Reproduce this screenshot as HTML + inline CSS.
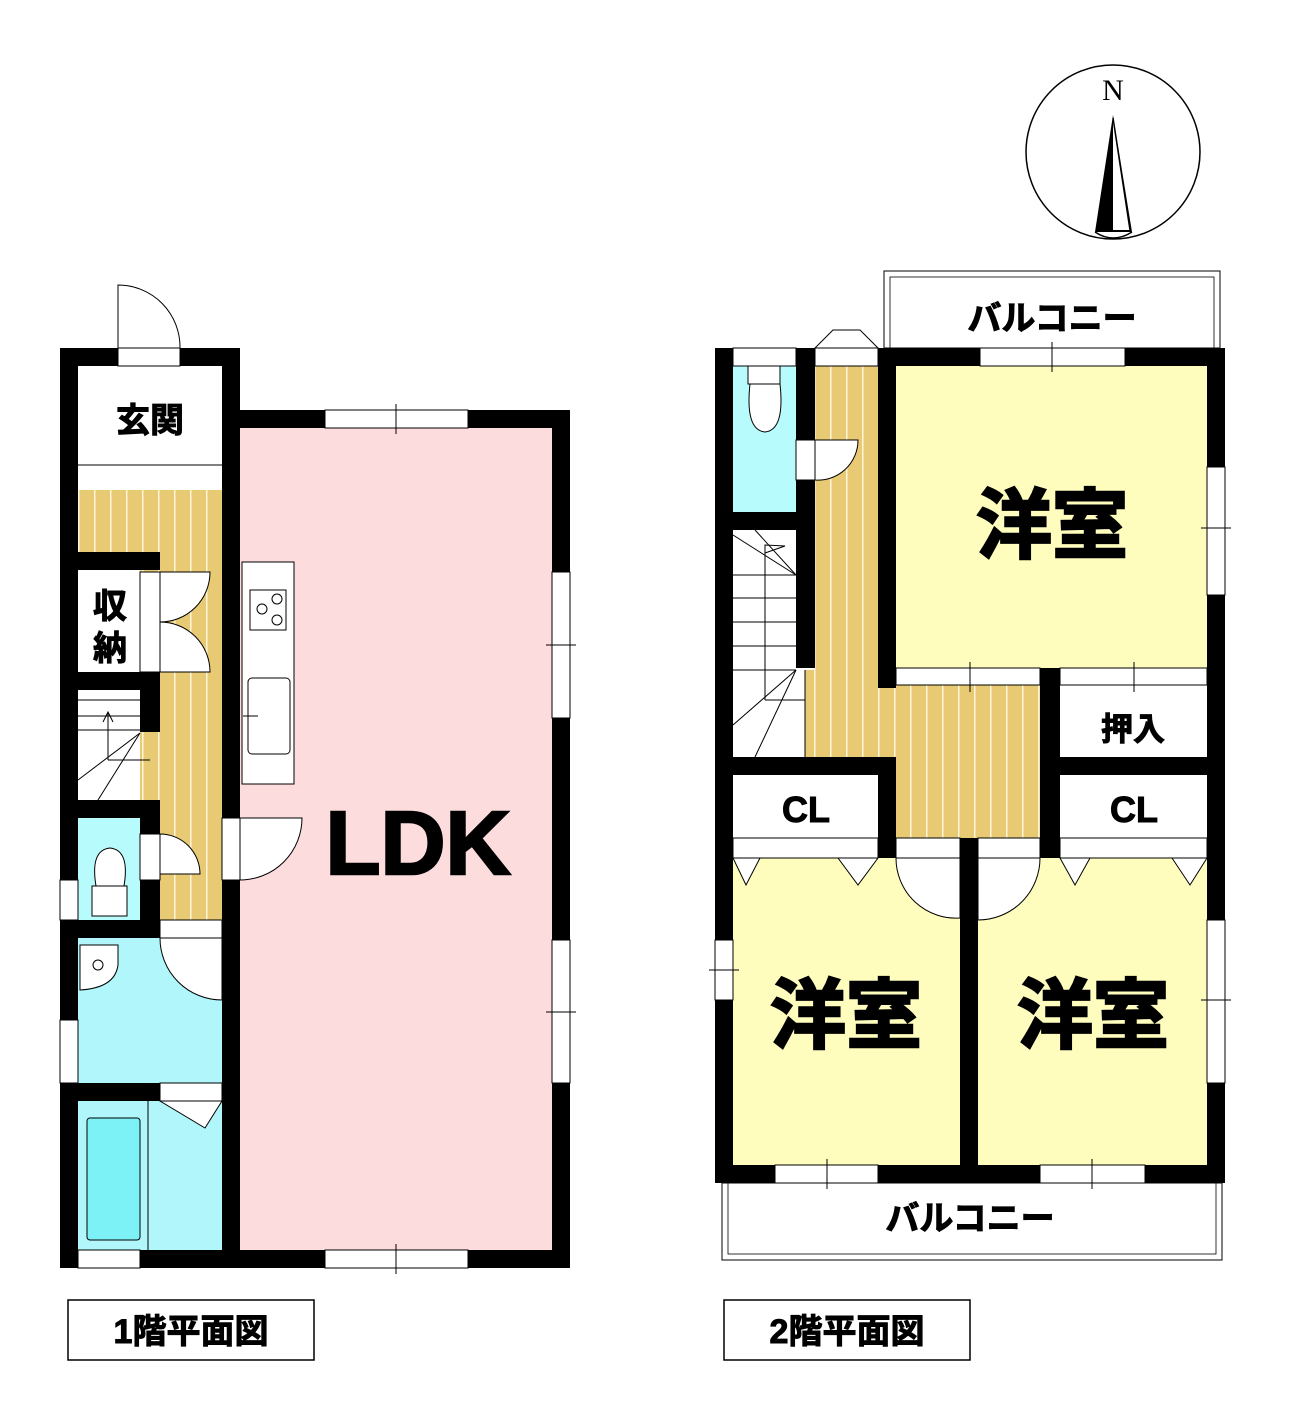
<!DOCTYPE html>
<html><head><meta charset="utf-8"><style>
html,body{margin:0;padding:0;background:#fff}
svg{display:block}
text{font-family:"Liberation Sans","Noto Sans CJK JP",sans-serif;font-weight:bold;stroke:#000;stroke-width:1}
text.big{stroke-width:2.5}
</style></head><body>
<svg width="1289" height="1426" viewBox="0 0 1289 1426" xmlns="http://www.w3.org/2000/svg">
<defs>
<pattern id="wood" width="16" height="10" patternUnits="userSpaceOnUse">
<rect width="16" height="10" fill="#e8c974"/><rect x="14" width="1.5" height="10" fill="#fff6d8"/>
</pattern>
</defs>
<!-- compass -->
<circle cx="1113" cy="152" r="87" fill="#fff" stroke="#000" stroke-width="1.5"/>
<text x="1113" y="100" text-anchor="middle" style="font-family:'Liberation Serif',serif;font-weight:normal;font-size:30px;stroke:none">N</text>
<polygon points="1113,115 1095,232 1132,232" fill="#000"/>
<path d="M1095,232 Q1113,244 1132,232" fill="#fff" stroke="#000" stroke-width="1.5"/>
<polygon points="1113,118 1113,230 1130,230" fill="#fff"/>
<polyline points="1113,118 1130,230" stroke="#000" fill="none" stroke-width="1.5"/>

<!-- ===== FLOOR 1 ===== -->
<rect x="240" y="428" width="312" height="822" fill="#fddcde"/>
<rect x="78" y="366" width="144" height="124" fill="#fff"/>
<line x1="78" y1="465" x2="222" y2="465" stroke="#000"/>
<rect x="78" y="490" width="144" height="430" fill="url(#wood)"/>
<rect x="78" y="570" width="62" height="102" fill="#fff"/>
<rect x="78" y="690" width="62" height="110" fill="#fff"/>
<rect x="78" y="818" width="62" height="102" fill="#b8fbfd"/>
<rect x="78" y="938" width="144" height="145" fill="#b0f6fa"/>
<rect x="78" y="1101" width="144" height="149" fill="#b0f6fa"/>
<rect x="87" y="1118" width="53" height="122" rx="3" fill="#7cf2f6" stroke="#000"/>
<line x1="148" y1="1101" x2="148" y2="1250" stroke="#000"/>
<!-- stairs -->
<g stroke="#000" fill="none" stroke-width="1">
<line x1="78" y1="700" x2="140" y2="700"/><line x1="78" y1="716" x2="140" y2="716"/><line x1="78" y1="730" x2="140" y2="730"/>
<polyline points="103,722 108,712 113,722"/><line x1="108" y1="712" x2="108" y2="760"/><line x1="108" y1="760" x2="150" y2="760"/>
<line x1="78" y1="780" x2="140" y2="733"/><line x1="98" y1="800" x2="140" y2="733"/>
</g>
<!-- kitchen -->
<rect x="242" y="562" width="52" height="222" fill="#fff" stroke="#000"/>
<rect x="250" y="590" width="36" height="40" fill="#fff" stroke="#000"/>
<circle cx="277" cy="599" r="5" fill="none" stroke="#000"/><circle cx="262" cy="609" r="5" fill="none" stroke="#000"/><circle cx="277" cy="620" r="5" fill="none" stroke="#000"/>
<rect x="248" y="678" width="42" height="76" rx="4" fill="#fff" stroke="#000"/>
<line x1="243" y1="716" x2="258" y2="716" stroke="#000"/>
<!-- toilet bowl -->
<path d="M96,886 Q90,850 110,848 Q130,850 124,886 Z" fill="#fff" stroke="#000"/>
<rect x="92" y="886" width="35" height="30" fill="#fff" stroke="#000"/>
<!-- sink -->
<path d="M80,945 L118,945 L118,965 Q115,988 80,990 Z" fill="#fff" stroke="#000"/>
<circle cx="98" cy="965" r="5" fill="none" stroke="#000"/>
<!-- door arcs -->
<g fill="#fff" stroke="#000" stroke-width="1">
<path d="M118,348 L118,285 A62,62 0 0 1 180,348 Z"/>
<path d="M160,572 L210,572 A50,50 0 0 1 160,622 Z"/>
<path d="M160,622 A50,50 0 0 1 210,672 L160,672 Z"/>
<path d="M160,834 A40,40 0 0 1 200,874 L160,874 Z"/>
<path d="M240,818 L302,818 A62,62 0 0 1 240,880 Z"/>
<path d="M160,938 L222,938 L222,1000 A62,62 0 0 1 160,938 Z"/>
<path d="M160,1101 L222,1101 L205,1128 Z"/>
</g>
<!-- walls floor1 -->
<g fill="#000">
<rect x="60" y="348" width="18" height="920"/>
<rect x="60" y="348" width="58" height="18"/><rect x="180" y="348" width="60" height="18"/>
<rect x="222" y="348" width="18" height="470"/><rect x="222" y="880" width="18" height="388"/>
<rect x="240" y="410" width="85" height="18"/><rect x="468" y="410" width="102" height="18"/>
<rect x="552" y="410" width="18" height="162"/><rect x="552" y="718" width="18" height="222"/><rect x="552" y="1083" width="18" height="185"/>
<rect x="140" y="1250" width="185" height="18"/><rect x="468" y="1250" width="102" height="18"/><rect x="60" y="1250" width="18" height="18"/>
<rect x="60" y="552" width="100" height="18"/><rect x="60" y="672" width="100" height="18"/>
<rect x="140" y="690" width="20" height="42"/>
<rect x="60" y="800" width="100" height="18"/><rect x="140" y="818" width="20" height="16"/><rect x="140" y="880" width="20" height="58"/>
<rect x="60" y="920" width="100" height="18"/>
<rect x="60" y="1083" width="100" height="18"/>
</g>
<g fill="#fff" stroke="#000" stroke-width="1">
<rect x="118" y="348" width="62" height="18"/>
<rect x="325" y="410" width="143" height="18"/><line x1="396" y1="404" x2="396" y2="434"/>
<rect x="552" y="572" width="18" height="146"/><line x1="546" y1="645" x2="576" y2="645"/>
<rect x="552" y="940" width="18" height="143"/><line x1="546" y1="1012" x2="576" y2="1012"/>
<rect x="325" y="1250" width="143" height="18"/><line x1="396" y1="1244" x2="396" y2="1274"/>
<rect x="78" y="1250" width="62" height="18"/>
<rect x="60" y="880" width="18" height="40"/><rect x="60" y="1020" width="18" height="63"/>
<rect x="140" y="572" width="20" height="100"/><rect x="140" y="834" width="20" height="46"/>
<rect x="222" y="818" width="18" height="62"/><rect x="160" y="920" width="62" height="18"/>
<rect x="160" y="1083" width="62" height="18"/>
</g>
<text x="150" y="432" font-size="34" text-anchor="middle">玄関</text>
<text x="110" y="618" font-size="34" text-anchor="middle">収</text>
<text x="110" y="660" font-size="34" text-anchor="middle">納</text>
<text class="big" x="418" y="874" font-size="90" text-anchor="middle">LDK</text>
<rect x="68" y="1300" width="246" height="60" fill="#fff" stroke="#000" stroke-width="1.5"/>
<text x="191" y="1343" font-size="34" text-anchor="middle">1階平面図</text>

<!-- ===== FLOOR 2 ===== -->
<rect x="884" y="271" width="336" height="77" fill="#fff" stroke="#000"/>
<rect x="890" y="277" width="324" height="71" fill="none" stroke="#000" stroke-width="0.8"/>
<rect x="722" y="1183" width="500" height="77" fill="#fff" stroke="#000"/>
<rect x="728" y="1183" width="488" height="71" fill="none" stroke="#000" stroke-width="0.8"/>
<text x="1052" y="330" font-size="34" text-anchor="middle">バルコニー</text>
<text x="970" y="1230" font-size="34" text-anchor="middle">バルコニー</text>
<rect x="733" y="366" width="63" height="146" fill="#b8fbfd"/>
<rect x="733" y="530" width="67" height="227" fill="#fff"/>
<rect x="815" y="366" width="63" height="340" fill="url(#wood)"/>
<rect x="805" y="670" width="236" height="168" fill="url(#wood)"/>
<rect x="896" y="366" width="311" height="302" fill="#fefdbe"/>
<rect x="1060" y="695" width="147" height="62" fill="#fff"/>
<rect x="733" y="775" width="145" height="63" fill="#fff"/>
<rect x="1060" y="775" width="147" height="63" fill="#fff"/>
<rect x="733" y="838" width="227" height="327" fill="#fefdbe"/>
<rect x="978" y="838" width="229" height="327" fill="#fefdbe"/>
<!-- stairs 2 -->
<g stroke="#000" fill="none" stroke-width="1">
<line x1="733" y1="575" x2="796" y2="575"/><line x1="733" y1="598" x2="796" y2="598"/><line x1="733" y1="622" x2="796" y2="622"/><line x1="733" y1="646" x2="796" y2="646"/><line x1="733" y1="670" x2="796" y2="670"/>
<polyline points="765,700 765,545 785,546 765,553"/><line x1="765" y1="700" x2="805" y2="700"/>
<line x1="733" y1="535" x2="796" y2="575"/><line x1="755" y1="530" x2="796" y2="575"/>
<line x1="733" y1="725" x2="796" y2="670"/><line x1="755" y1="757" x2="796" y2="670"/>
<line x1="805" y1="670" x2="805" y2="757"/>
</g>
<!-- toilet2 -->
<rect x="748" y="366" width="32" height="18" fill="#fff" stroke="#000"/>
<path d="M750,384 Q745,430 765,432 Q785,430 780,384 Z" fill="#fff" stroke="#000"/>
<!-- doors 2 -->
<g fill="#fff" stroke="#000" stroke-width="1">
<path d="M815,440 L858,440 A40,40 0 0 1 815,480 Z"/>
<polygon points="815,348 833,330 860,330 878,348"/>
<path d="M896,858 L960,858 L960,918 A60,60 0 0 1 896,858 Z"/>
<path d="M978,858 L1040,858 A62,62 0 0 1 978,920 Z"/>
<polygon points="733,858 760,858 746,885"/><polygon points="838,858 878,858 858,885"/>
<polygon points="1060,858 1090,858 1075,885"/><polygon points="1172,858 1207,858 1190,885"/>
</g>
<!-- walls floor2 -->
<g fill="#000">
<rect x="715" y="348" width="18" height="592"/><rect x="715" y="1000" width="18" height="183"/>
<rect x="715" y="348" width="100" height="18"/><rect x="878" y="348" width="102" height="18"/><rect x="1125" y="348" width="100" height="18"/>
<rect x="1207" y="348" width="18" height="119"/><rect x="1207" y="595" width="18" height="325"/><rect x="1207" y="1083" width="18" height="100"/>
<rect x="715" y="1165" width="60" height="18"/><rect x="878" y="1165" width="162" height="18"/><rect x="1145" y="1165" width="80" height="18"/>
<rect x="796" y="348" width="19" height="92"/><rect x="796" y="480" width="19" height="188"/>
<rect x="715" y="512" width="100" height="18"/>
<rect x="878" y="348" width="18" height="340"/>
<rect x="1040" y="668" width="20" height="190"/>
<rect x="1040" y="757" width="185" height="18"/>
<rect x="715" y="757" width="181" height="18"/><rect x="878" y="757" width="18" height="101"/>
<rect x="960" y="838" width="18" height="327"/>
<rect x="1040" y="838" width="20" height="20"/>
</g>
<g fill="#fff" stroke="#000" stroke-width="1">
<rect x="733" y="348" width="63" height="18"/><rect x="815" y="348" width="63" height="18"/>
<rect x="980" y="348" width="145" height="18"/><line x1="1052" y1="342" x2="1052" y2="372"/>
<rect x="1207" y="467" width="18" height="128"/><line x1="1201" y1="528" x2="1231" y2="528"/>
<rect x="1207" y="920" width="18" height="163"/><line x1="1201" y1="1000" x2="1231" y2="1000"/>
<rect x="715" y="940" width="18" height="60"/><line x1="709" y1="970" x2="739" y2="970"/>
<rect x="775" y="1165" width="103" height="18"/><line x1="827" y1="1159" x2="827" y2="1189"/>
<rect x="1040" y="1165" width="105" height="18"/><line x1="1092" y1="1159" x2="1092" y2="1189"/>
<rect x="896" y="668" width="144" height="17"/><line x1="970" y1="662" x2="970" y2="692"/>
<rect x="1060" y="668" width="147" height="17"/><line x1="1134" y1="662" x2="1134" y2="692"/>
<rect x="796" y="440" width="19" height="40"/>
<rect x="733" y="838" width="145" height="20"/><rect x="1060" y="838" width="147" height="20"/>
<rect x="896" y="838" width="64" height="20"/><rect x="978" y="838" width="62" height="20"/>
</g>
<text class="big" x="1052" y="552" font-size="76" text-anchor="middle">洋室</text>
<text x="1133" y="740" font-size="32" text-anchor="middle">押入</text>
<text x="806" y="822" font-size="36" text-anchor="middle">CL</text>
<text x="1134" y="822" font-size="36" text-anchor="middle">CL</text>
<text class="big" x="846" y="1042" font-size="76" text-anchor="middle">洋室</text>
<text class="big" x="1093" y="1042" font-size="76" text-anchor="middle">洋室</text>
<rect x="724" y="1300" width="246" height="60" fill="#fff" stroke="#000" stroke-width="1.5"/>
<text x="847" y="1343" font-size="34" text-anchor="middle">2階平面図</text>
</svg>
</body></html>
